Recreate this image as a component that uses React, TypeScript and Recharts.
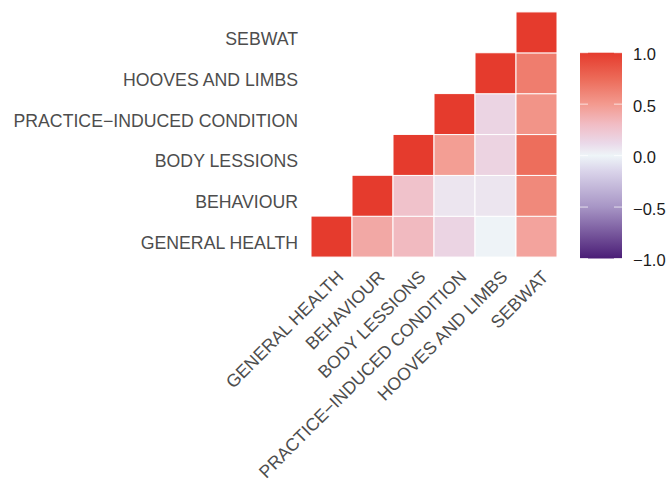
import React from "react";
import { ScatterChart, Scatter, XAxis, YAxis } from "recharts";

const variables = [
  "GENERAL HEALTH",
  "BEHAVIOUR",
  "BODY LESSIONS",
  "PRACTICE−INDUCED CONDITION",
  "HOOVES AND LIMBS",
  "SEBWAT",
];

// correlation matrix rows, same order as variables
const generalHealth = [1.0, 0.42, 0.32, 0.15, 0.01, 0.45];
const behaviour = [0.42, 1.0, 0.27, 0.07, 0.07, 0.59];
const bodyLessions = [0.32, 0.27, 1.0, 0.48, 0.16, 0.73];
const practiceInduced = [0.15, 0.07, 0.48, 1.0, 0.15, 0.53];
const hoovesAndLimbs = [0.01, 0.07, 0.16, 0.15, 1.0, 0.65];
const sebwat = [0.45, 0.59, 0.73, 0.53, 0.65, 1.0];

const legendTicks = [1.0, 0.5, 0.0, -0.5, -1.0];
const positions = [1, 2, 3, 4, 5, 6];

const matrix = [generalHealth, behaviour, bodyLessions, practiceInduced, hoovesAndLimbs, sebwat];

// keep upper triangle (column >= row) like the reference
const cells = [];
matrix.forEach((row, r) => {
  row.forEach((value, c) => {
    if (c >= r) cells.push({ x: c + 1, y: r + 1, value });
  });
});

const W = 670;
const H = 483;
const M = { top: 12, right: 113, left: 0, bottom: 0 };
const Y_AXIS_W = 311;
const X_AXIS_H = 226;
const PLOT_W = W - M.left - M.right - Y_AXIS_W;
const CELL = PLOT_W / 6;

const FONT = "'Liberation Sans', Arial, Helvetica, sans-serif";
const AXIS_TEXT = "#4D4D4D";
const AXIS_SIZE = 17.7;

const colorStops: [number, string][] = [
  [-1, "#4A1D76"],
  [-0.5, "#A795C5"],
  [-0.15, "#DAD4EA"],
  [0, "#EEF5F8"],
  [0.12, "#EAD9E9"],
  [0.3, "#F1BDC5"],
  [0.5, "#F39A8F"],
  [0.75, "#EC6A58"],
  [1, "#E53B2D"],
];

function hexToRgb(h: string) {
  const n = parseInt(h.slice(1), 16);
  return [(n >> 16) & 255, (n >> 8) & 255, n & 255];
}

function colorFor(v: number) {
  for (let i = 0; i < colorStops.length - 1; i++) {
    const [v0, c0] = colorStops[i];
    const [v1, c1] = colorStops[i + 1];
    if (v >= v0 && v <= v1) {
      const t = (v - v0) / (v1 - v0);
      const a = hexToRgb(c0);
      const b = hexToRgb(c1);
      const m = a.map((x, k) => Math.round(x + (b[k] - x) * t));
      return `rgb(${m[0]},${m[1]},${m[2]})`;
    }
  }
  return colorStops[colorStops.length - 1][1];
}

function HeatCell(props: any) {
  const { cx, cy, payload } = props;
  return (
    <rect
      x={cx - CELL / 2}
      y={cy - CELL / 2}
      width={CELL}
      height={CELL}
      fill={colorFor(payload.value)}
      stroke="#ffffff"
      strokeWidth={1}
    />
  );
}

function YTick(props: any) {
  const { y, payload } = props;
  return (
    <text
      x={298}
      y={y + 12.5}
      textAnchor="end"
      fill={AXIS_TEXT}
      fontSize={AXIS_SIZE}
      fontFamily={FONT}
    >
      {variables[payload.value - 1]}
    </text>
  );
}

function XTick(props: any) {
  const { x, payload } = props;
  const ex = x + 13;
  const ey = 278;
  return (
    <text
      x={ex}
      y={ey}
      textAnchor="end"
      fill={AXIS_TEXT}
      fontSize={AXIS_SIZE}
      fontFamily={FONT}
      transform={`rotate(-45, ${ex}, ${ey})`}
    >
      {variables[payload.value - 1]}
    </text>
  );
}

function ColorBar() {
  const x0 = 580;
  const bw = 42;
  const top = 52.7;
  const bottom = 258.5;
  const scaleY = (v: number) => top + ((1 - v) / 2) * (bottom - top);
  return (
    <svg
      width={W}
      height={H}
      style={{ position: "absolute", left: 0, top: 0, pointerEvents: "none" }}
    >
      <defs>
        <linearGradient id="corrGrad" x1="0" y1="0" x2="0" y2="1">
          {colorStops
            .slice()
            .reverse()
            .map(([v, c]) => (
              <stop key={v} offset={`${((1 - v) / 2) * 100}%`} stopColor={c} />
            ))}
        </linearGradient>
      </defs>
      <rect x={x0} y={top} width={bw} height={bottom - top} fill="url(#corrGrad)" />
      {legendTicks.map((t) => (
        <g key={t}>
          <line x1={x0} x2={x0 + 8} y1={scaleY(t)} y2={scaleY(t)} stroke="#ffffff" strokeOpacity={0.7} />
          <line x1={x0 + bw - 8} x2={x0 + bw} y1={scaleY(t)} y2={scaleY(t)} stroke="#ffffff" strokeOpacity={0.7} />
          <text
            x={633}
            y={scaleY(t) + 7.7}
            fontSize={16.5}
            fontFamily={FONT}
            fill="#1A1A1A"
          >
            {t < 0 ? `−${Math.abs(t).toFixed(1)}` : t.toFixed(1)}
          </text>
        </g>
      ))}
    </svg>
  );
}

export default function App() {
  return (
    <div style={{ position: "relative", width: W, height: H, background: "#ffffff" }}>
      <style>{"body{margin:0;}"}</style>
      <ScatterChart width={W} height={H} margin={M}>
        <XAxis
          type="number"
          dataKey="x"
          domain={[0.5, 6.5]}
          ticks={positions}
          interval={0}
          height={X_AXIS_H}
          axisLine={false}
          tickLine={false}
          tick={<XTick />}
        />
        <YAxis
          type="number"
          dataKey="y"
          domain={[0.5, 6.5]}
          ticks={positions}
          interval={0}
          width={Y_AXIS_W}
          axisLine={false}
          tickLine={false}
          tick={<YTick />}
        />
        <Scatter data={cells} shape={<HeatCell />} isAnimationActive={false} />
      </ScatterChart>
      <ColorBar />
    </div>
  );
}
